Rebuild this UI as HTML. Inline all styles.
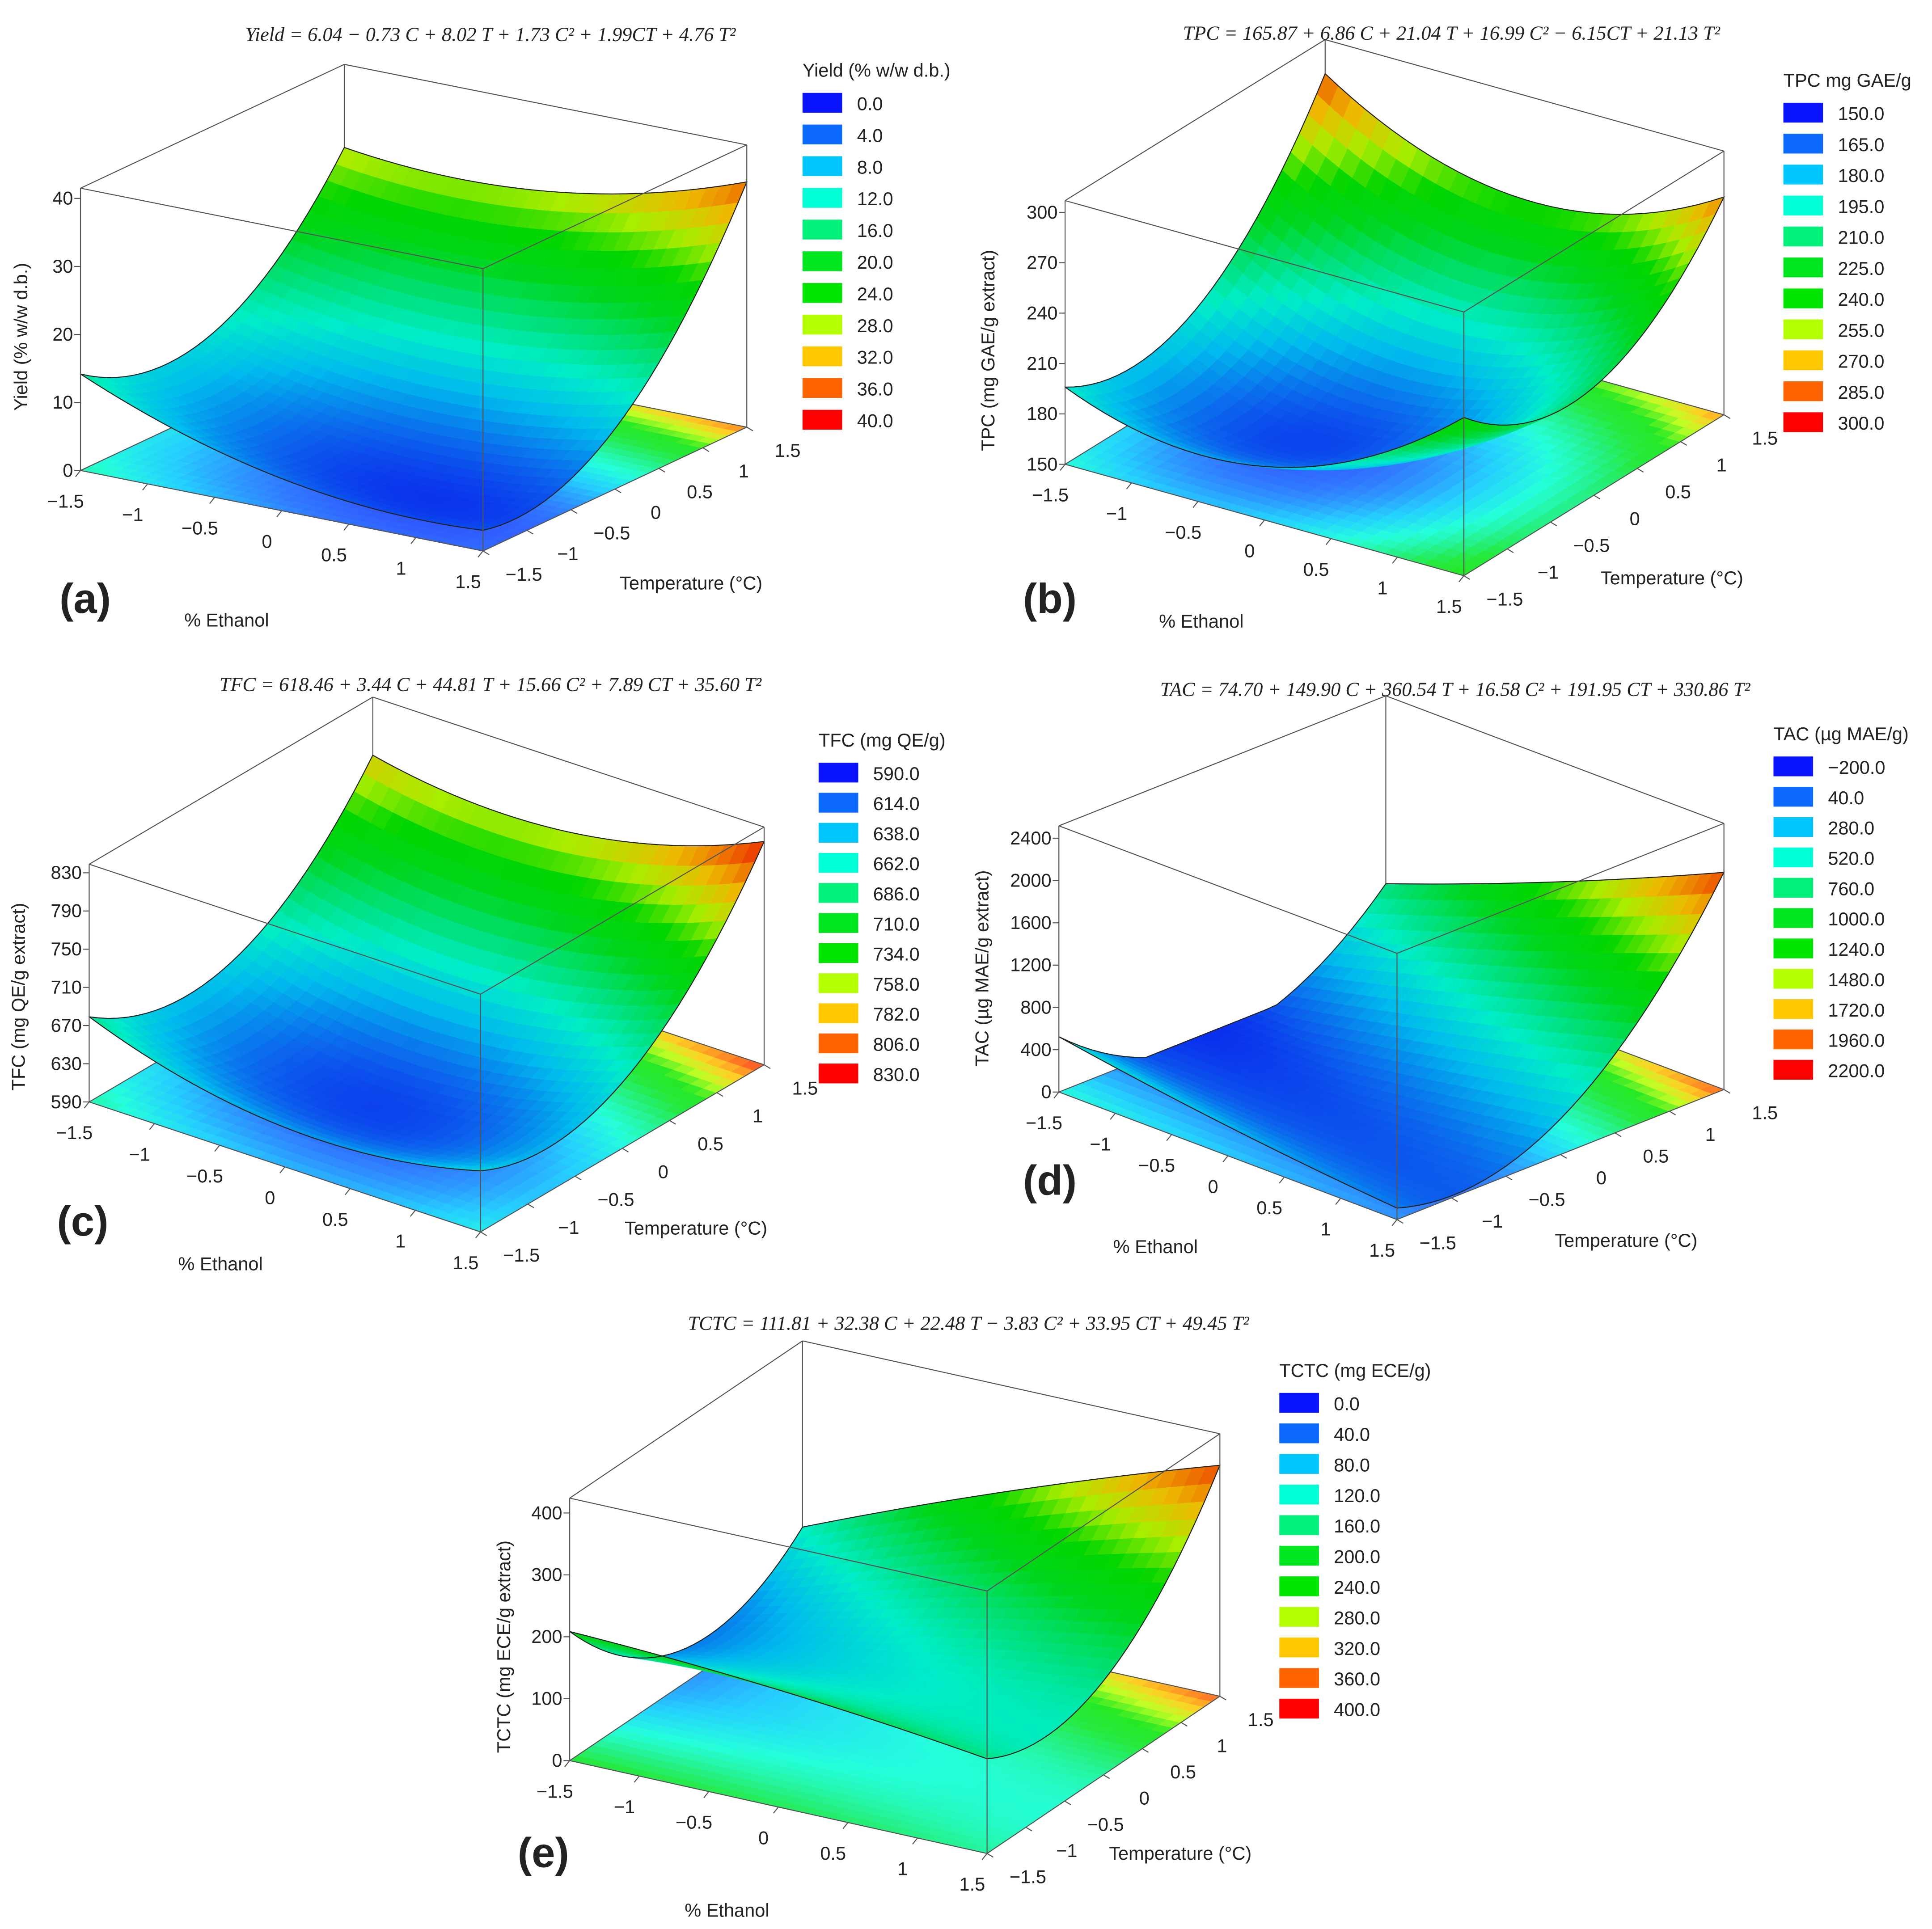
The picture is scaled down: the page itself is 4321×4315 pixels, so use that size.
<!DOCTYPE html>
<html><head><meta charset="utf-8"><style>
html,body{margin:0;padding:0;background:#fff}
svg{display:block}
text{font-family:"Liberation Sans",sans-serif;fill:#222}
.ttl{font-family:"Liberation Serif",serif;font-style:italic;font-size:16px}
</style></head><body>
<svg id="fig" width="4321" height="4315" viewBox="0 0 1560 1558" preserveAspectRatio="none" xmlns="http://www.w3.org/2000/svg"></svg>
<script>
// ---- data ----
const panelIds = ['a','b','c','d','e'];
const coefA = [6.04,-0.73,8.02,1.73,1.99,4.76];
const coefB = [165.87,6.86,21.04,16.99,-6.15,21.13];
const coefC = [618.46,3.44,44.81,15.66,7.89,35.60];
const coefD = [74.70,149.90,360.54,16.58,191.95,330.86];
const coefE = [111.81,32.38,22.48,-3.83,33.95,49.45];
const legendA = [0,4,8,12,16,20,24,28,32,36,40];
const legendB = [150,165,180,195,210,225,240,255,270,285,300];
const legendC = [590,614,638,662,686,710,734,758,782,806,830];
const legendD = [-200,40,280,520,760,1000,1240,1480,1720,1960,2200];
const legendE = [0,40,80,120,160,200,240,280,320,360,400];
const zTicksA = [0,10,20,30,40];
const zTicksB = [150,180,210,240,270,300];
const zTicksC = [590,630,670,710,750,790,830];
const zTicksD = [0,400,800,1200,1600,2000,2400];
const zTicksE = [0,100,200,300,400];
const xTicks = [-1.5,-1,-0.5,0,0.5,1,1.5];
const titles = [
 "Yield =  6.04 − 0.73 C + 8.02 T + 1.73 C² + 1.99CT + 4.76 T²",
 "TPC  = 165.87 + 6.86 C + 21.04 T + 16.99 C² − 6.15CT + 21.13 T²",
 "TFC  = 618.46 + 3.44 C + 44.81 T + 15.66 C² + 7.89 CT + 35.60 T²",
 "TAC  = 74.70 + 149.90 C + 360.54 T + 16.58 C² + 191.95 CT + 330.86 T²",
 "TCTC  = 111.81 + 32.38 C + 22.48 T − 3.83 C² + 33.95 CT + 49.45 T²"];
const legendTitles = ["Yield (% w/w d.b.)","TPC mg GAE/g","TFC (mg QE/g)","TAC (µg MAE/g)","TCTC (mg ECE/g)"];
const zTitles = ["Yield (% w/w d.b.)","TPC (mg GAE/g extract)","TFC (mg QE/g extract)","TAC (µg MAE/g extract)","TCTC (mg ECE/g extract)"];
// ---- layout (positions, not data) ----
const layout = [
 {L:[65,380],F:[390,445],R:[603,345],H:228,zmin:0,zmax:41.5,title:[396,28],leg:[648,57,25.6],let:[70,483],eth:[183,501],tmp:[558,471],zt:[22,272],coef:coefA,legv:legendA,zt2:zTicksA},
 {L:[860,375],F:[1182,465],R:[1392,335],H:213,zmin:150,zmax:307,title:[1172,27],leg:[1440,65,25],let:[848,483],eth:[970,502],tmp:[1350,467],zt:[803,283],coef:coefB,legv:legendB,zt2:zTicksB},
 {L:[72,890],F:[388,995],R:[617,860],H:192,zmin:590,zmax:839,title:[396,553],leg:[661,598,24.3],let:[68,986],eth:[178,1021],tmp:[562,992],zt:[20,805],coef:coefC,legv:legendC,zt2:zTicksC},
 {L:[855,882],F:[1128,985],R:[1392,880],H:215,zmin:0,zmax:2517,title:[1175,557],leg:[1432,593,24.5],let:[848,953],eth:[933,1007],tmp:[1313,1002],zt:[798,782],coef:coefD,legv:legendD,zt2:zTicksD},
 {L:[460,1422],F:[797,1497],R:[985,1370],H:212,zmin:0,zmax:424,title:[782,1069],leg:[1033,1107,24.7],let:[440,1496],eth:[587,1543],tmp:[953,1497],zt:[412,1330],coef:coefE,legv:legendE,zt2:zTicksE}
];
const cmap = [[10,20,255],[13,106,255],[0,200,255],[0,255,215],[0,240,122],[0,230,30],[0,230,0],[180,255,0],[255,200,0],[255,100,0],[255,0,0]];
const NS='http://www.w3.org/2000/svg';
const svg=document.getElementById('fig');
function mk(tag,attrs,parent){const e=document.createElementNS(NS,tag);for(const k in attrs)e.setAttribute(k,attrs[k]);(parent||svg).appendChild(e);return e;}
function color(z,lv,dark){let f=(z-lv[0])/(lv[lv.length-1]-lv[0])*(cmap.length-1);f=Math.max(0,Math.min(cmap.length-1.0001,f));const i=Math.floor(f),r=f-i;const c=cmap[i].map((v,k)=>v+(cmap[i+1][k]-v)*r);const d=dark||1;return `rgb(${Math.round(c[0]*d)},${Math.round(c[1]*d)},${Math.round(c[2]*d)})`;}
function fmt(v){return (v<0?'−':'')+Math.abs(v);}
layout.forEach((p,pi)=>{
 const g=mk('g',{});
 
 
 const Cv=[(p.F[0]-p.L[0])/3,(p.F[1]-p.L[1])/3],Tv=[(p.R[0]-p.F[0])/3,(p.R[1]-p.F[1])/3];
 const P=(c,t,z)=>{const zz=Math.max(p.zmin,Math.min(p.zmax,z));return [p.L[0]+(c+1.5)*Cv[0]+(t+1.5)*Tv[0],p.L[1]+(c+1.5)*Cv[1]+(t+1.5)*Tv[1]-(zz-p.zmin)/(p.zmax-p.zmin)*p.H];};
 const k=p.coef;const f=(c,t)=>k[0]+k[1]*c+k[2]*t+k[3]*c*c+k[4]*c*t+k[5]*t*t;
 const N=30,s=3/N;
 const fl=mk('g',{opacity:0.85},g);
 for(let i=0;i<N;i++)for(let j=0;j<N;j++){const c0=-1.5+i*s,t0=-1.5+j*s;const z=f(c0+s/2,t0+s/2);const pts=[P(c0,t0,p.zmin),P(c0+s,t0,p.zmin),P(c0+s,t0+s,p.zmin),P(c0,t0+s,p.zmin)];const col=color(z,p.legv);mk('polygon',{points:pts.map(q=>q.join(',')).join(' '),fill:col,stroke:col,'stroke-width':0.6},fl);}
 const cs=[[-1.5,-1.5],[1.5,-1.5],[1.5,1.5],[-1.5,1.5]];
 const back=cs[3];
 const line=(a,b,par)=>{const l=mk('line',{x1:a[0],y1:a[1],x2:b[0],y2:b[1],stroke:'#555','stroke-width':0.8},par);return l;};
 const bk=mk('g',{},g);
 line(P(back[0],back[1],p.zmin),P(back[0],back[1],p.zmax),bk);
 line(P(back[0],back[1],p.zmin),P(-1.5,-1.5,p.zmin),bk);
 line(P(back[0],back[1],p.zmin),P(1.5,1.5,p.zmin),bk);
 const sf=mk('g',{},g);
 const quads=[];
 for(let i=0;i<N;i++)for(let j=0;j<N;j++){const c0=-1.5+i*s,t0=-1.5+j*s;const z=f(c0+s/2,t0+s/2);quads.push({c0,t0,z,d:P(c0+s/2,t0+s/2,p.zmin)[1]});}
 quads.sort((a,b)=>a.d-b.d);
 quads.forEach(q=>{const {c0,t0}=q;const pts=[P(c0,t0,f(c0,t0)),P(c0+s,t0,f(c0+s,t0)),P(c0+s,t0+s,f(c0+s,t0+s)),P(c0,t0+s,f(c0,t0+s))];const col=color(q.z,p.legv,0.93);mk('polygon',{points:pts.map(v=>v.join(',')).join(' '),fill:col,stroke:col,'stroke-width':0.6},sf);});
 let ol=[];for(let i=0;i<=N;i++)ol.push(P(-1.5+i*s,-1.5,f(-1.5+i*s,-1.5)));for(let j=0;j<=N;j++)ol.push(P(1.5,-1.5+j*s,f(1.5,-1.5+j*s)));for(let i=N;i>=0;i--)ol.push(P(-1.5+i*s,1.5,f(-1.5+i*s,1.5)));for(let j=N;j>=0;j--)ol.push(P(-1.5,-1.5+j*s,f(-1.5,-1.5+j*s)));
 mk('polyline',{points:ol.map(v=>v.join(',')).join(' '),fill:'none',stroke:'#222','stroke-width':0.8},sf);
 const fe=mk('g',{},g);
 for(let i=0;i<3;i++)line(P(cs[i][0],cs[i][1],p.zmin),P(cs[i][0],cs[i][1],p.zmax),fe);
 for(let i=0;i<4;i++){const a=cs[i],b=cs[(i+1)%4];line(P(a[0],a[1],p.zmax),P(b[0],b[1],p.zmax),fe);}
 line(P(-1.5,-1.5,p.zmin),P(1.5,-1.5,p.zmin),fe);line(P(1.5,-1.5,p.zmin),P(1.5,1.5,p.zmin),fe);
 xTicks.forEach(v=>{
  const a=P(v,-1.5,p.zmin);line(a,[a[0]-4,a[1]+5],fe);
  const e=mk('text',{x:a[0]-12,y:a[1]+30,'font-size':15,'text-anchor':'middle'},g);e.textContent=fmt(v);
  
  const b=P(1.5,v,p.zmin);line(b,[b[0]+5,b[1]+3],fe);
  const t=mk('text',{x:b[0]+33,y:b[1]+24,'font-size':15,'text-anchor':'middle'},g);t.textContent=fmt(v);
  
 });
 p.zt2.forEach(v=>{const a=P(-1.5,-1.5,v);if(v<p.zmin-1e-6||v>p.zmax+1e-6)return;line(a,[a[0]-5,a[1]],fe);const t=mk('text',{x:a[0]-6,y:a[1]+5,'font-size':15,'text-anchor':'end'},g);t.textContent=v;});
 let t=mk('text',{x:p.title[0],y:p.title[1]+5,'text-anchor':'middle',class:'ttl'},g);t.textContent=titles[pi];
 t=mk('text',{x:p.eth[0],y:p.eth[1]+5,'text-anchor':'middle','font-size':15},g);t.textContent='% Ethanol';
 t=mk('text',{x:p.tmp[0],y:p.tmp[1]+5,'text-anchor':'middle','font-size':15},g);t.textContent='Temperature (°C)';
 t=mk('text',{x:p.zt[0],y:p.zt[1],'text-anchor':'middle','font-size':15,transform:`rotate(-90 ${p.zt[0]} ${p.zt[1]})`},g);t.textContent=zTitles[pi];
 t=mk('text',{x:p.let[0]-22,y:p.let[1]+12,'font-size':34,'font-weight':'bold',fill:'#111'},g);t.textContent='('+panelIds[pi]+')';
 const lg=mk('g',{},g);
 t=mk('text',{x:p.leg[0],y:p.leg[1]+5,'font-size':15},lg);t.textContent=legendTitles[pi];
 p.legv.forEach((v,i)=>{const y=p.leg[1]+18+i*p.leg[2];const r=mk('rect',{x:p.leg[0],y:y,width:32,height:16,fill:color(v,p.legv)},lg);const tt=mk('text',{x:p.leg[0]+44,y:y+14,'font-size':15},lg);tt.textContent=(v<0?'−':'')+Math.abs(v).toFixed(1);});
});
</script>
</body></html>
